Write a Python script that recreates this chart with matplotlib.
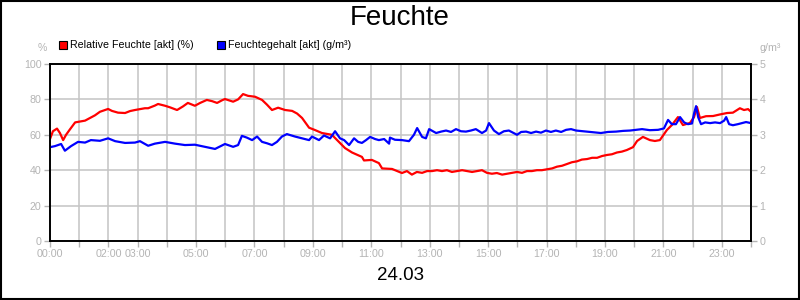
import matplotlib
matplotlib.use("Agg")
import matplotlib.pyplot as plt
from matplotlib.patches import Rectangle

plt.rcParams['font.family'] = ['Liberation Sans', 'DejaVu Sans']

# Relative Feuchte (%) - Stunden / Werte
rf_std = [0.00, 0.10, 0.24, 0.34, 0.45, 0.55, 0.68, 0.86, 1.03, 1.20, 1.37, 1.54, 1.71, 1.88, 1.99,
          2.12, 2.33, 2.57, 2.74, 2.91, 3.08, 3.25, 3.36, 3.59, 3.70, 3.94, 4.11, 4.35, 4.55, 4.72,
          4.96, 5.14, 5.37, 5.55, 5.72, 5.89, 5.99, 6.27, 6.44, 6.61, 6.78, 7.02, 7.26, 7.43, 7.60,
          7.81, 8.05, 8.29, 8.46, 8.63, 8.87, 9.07, 9.31, 9.65, 9.89, 10.10, 10.34, 10.68, 10.75,
          11.02, 11.26, 11.37, 11.71, 12.05, 12.22, 12.39, 12.56, 12.74, 12.91, 13.08, 13.25, 13.42,
          13.59, 13.76, 13.93, 14.11, 14.28, 14.45, 14.62, 14.79, 14.96, 15.13, 15.30, 15.48, 15.65,
          15.82, 15.99, 16.16, 16.33, 16.50, 16.67, 16.84, 17.02, 17.19, 17.36, 17.53, 17.70, 17.87,
          18.04, 18.21, 18.39, 18.56, 18.73, 18.90, 19.07, 19.24, 19.41, 19.58, 19.75, 19.96, 20.10,
          20.30, 20.54, 20.71, 20.88, 21.12, 21.29, 21.50, 21.67, 21.91, 22.05, 22.15, 22.25, 22.46,
          22.70, 22.94, 23.18, 23.38, 23.62, 23.76, 23.90, 24.00]
rf_wert = [57.6, 62, 63.5, 61, 57, 60, 63, 67, 67.5, 68, 69.5, 71, 73, 74, 74.6,
           73.5, 72.5, 72.3, 73.4, 74, 74.5, 75, 75, 76.5, 77.4, 76.4, 75.5, 74, 76, 78,
           76.4, 78, 79.7, 79, 78, 79.5, 80.2, 78.7, 80, 83, 82, 81.5, 79.7, 77, 74,
           75.3, 74, 73.5, 72, 69.5, 64, 62.7, 61, 60, 56, 52.5, 50, 47.5, 45.5,
           45.8, 44, 41, 40.7, 38.4, 39.5, 37.5, 39, 38.5, 39.5, 39.5, 40, 39.5,
           40, 39, 39.5, 40, 39.5, 39, 39.5, 40, 38.5, 38, 38.4, 37.5, 38,
           38.5, 39, 38.5, 39.5, 39.5, 40, 40, 40.5, 41, 42, 42.5, 43.5, 44.5,
           45, 46, 46.3, 47, 47, 48, 48.6, 49, 50, 50.5, 51.4, 53, 56.5,
           58.8, 57, 56.5, 57, 62.7, 65.5, 70, 65.5, 66.7, 70, 75.7, 69.5, 70.5,
           70.6, 71.5, 72.3, 72.5, 75, 74, 74.5, 73]

# Feuchtegehalt (g/m³) - Stunden / Werte
fg_std = [0.00, 0.17, 0.38, 0.51, 0.72, 0.96, 1.20, 1.40, 1.71, 1.99, 2.23, 2.57, 2.91, 3.08, 3.36,
          3.59, 3.94, 4.28, 4.62, 4.96, 5.31, 5.65, 5.99, 6.27, 6.44, 6.57, 6.74, 6.92, 7.09, 7.26,
          7.43, 7.60, 7.77, 7.94, 8.11, 8.39, 8.63, 8.87, 8.97, 9.21, 9.38, 9.59, 9.76, 9.93, 10.07,
          10.24, 10.41, 10.55, 10.68, 10.82, 10.96, 11.13, 11.26, 11.44, 11.61, 11.64, 11.81, 12.05,
          12.29, 12.46, 12.57, 12.74, 12.87, 12.98, 13.22, 13.39, 13.56, 13.73, 13.90, 14.07, 14.24,
          14.41, 14.58, 14.79, 14.93, 15.03, 15.20, 15.37, 15.54, 15.71, 15.85, 15.99, 16.13, 16.30,
          16.47, 16.64, 16.81, 16.98, 17.15, 17.32, 17.50, 17.67, 17.84, 18.01, 18.25, 18.49, 18.73,
          18.86, 19.10, 19.38, 19.62, 19.86, 20.06, 20.27, 20.54, 20.82, 21.02, 21.16, 21.29, 21.43,
          21.57, 21.71, 21.84, 21.98, 22.05, 22.12, 22.19, 22.29, 22.43, 22.60, 22.77, 22.94, 23.08,
          23.15, 23.25, 23.38, 23.55, 23.69, 23.83, 24.00]
fg_wert = [2.65, 2.68, 2.74, 2.55, 2.68, 2.8, 2.78, 2.85, 2.83, 2.9, 2.82, 2.77, 2.78, 2.82, 2.69,
           2.75, 2.8, 2.75, 2.71, 2.72, 2.66, 2.6, 2.74, 2.66, 2.71, 2.97, 2.92, 2.85, 2.95, 2.8,
           2.76, 2.71, 2.8, 2.95, 3.02, 2.95, 2.9, 2.85, 2.95, 2.85, 2.98, 2.9, 3.1, 2.9, 2.85,
           2.71, 2.9, 2.8, 2.77, 2.85, 2.94, 2.88, 2.85, 2.88, 2.75, 2.92, 2.86, 2.85,
           2.82, 3.0, 3.19, 2.94, 2.9, 3.16, 3.05, 3.09, 3.12, 3.08, 3.16, 3.1, 3.09,
           3.12, 3.16, 3.05, 3.12, 3.33, 3.12, 3.02, 3.1, 3.12, 3.06, 3.0, 3.08, 3.09,
           3.05, 3.09, 3.06, 3.12, 3.08, 3.12, 3.08, 3.14, 3.16, 3.12, 3.1, 3.08, 3.06,
           3.05, 3.08, 3.09, 3.11, 3.12, 3.14, 3.16, 3.13, 3.14, 3.18, 3.42, 3.3, 3.3,
           3.5, 3.35, 3.3, 3.32, 3.6, 3.81, 3.5, 3.3, 3.35, 3.33, 3.35, 3.33, 3.4,
           3.5, 3.3, 3.27, 3.3, 3.33, 3.36, 3.33]

stunden_labels = [0, 2, 3, 5, 7, 9, 11, 13, 15, 17, 19, 21, 23]
y_links = [0, 20, 40, 60, 80, 100]
y_rechts = [0, 1, 2, 3, 4, 5]

grau = '#b4b4b4'

fig = plt.figure(figsize=(8, 3), dpi=100)
ax = fig.add_axes([0.0625, 0.1967, 0.87625, 0.59])
ax2 = ax.twinx()

ax.plot(rf_std, rf_wert, color='#ff0000', lw=1.6)
ax2.plot(fg_std, fg_wert, color='#0000ff', lw=1.6)

ax.set_xlim(0, 24)
ax.set_ylim(0, 100)
ax2.set_ylim(0, 5)

ax.set_xticks(range(25))
ax.set_xticklabels([f"{h:02d}:00" if h in stunden_labels else "" for h in range(25)])
ax.set_yticks(y_links)
ax2.set_yticks(y_rechts)

ax.grid(True, color='#c4c4c4', lw=1.1)
ax.set_axisbelow(True)

for a in (ax, ax2):
    a.tick_params(colors=grau, labelcolor=grau, labelsize=7.7, length=4, width=1, pad=2)
    for s in a.spines.values():
        s.set_color('black')
        s.set_linewidth(1.2)

fig.text(0.5, 0.94, "Feuchte", ha='center', va='center', fontsize=20)
fig.text(0.5, 0.08, "24.03", ha='center', va='center', fontsize=13.5)
fig.text(0.0525, 0.84, "%", ha='center', va='center', fontsize=7.7, color=grau)
fig.text(0.9625, 0.84, "g/m³", ha='center', va='center', fontsize=7.7, color=grau)

# Legende
for x0, farbe, text in [(59, '#ff0000', "Relative Feuchte [akt] (%)"),
                        (217, '#0000ff', "Feuchtegehalt [akt] (g/m³)")]:
    fig.patches.append(Rectangle((x0 / 800, (300 - 49) / 300), 8 / 800, 8 / 300,
                                 transform=fig.transFigure, facecolor=farbe,
                                 edgecolor='black', lw=0.8))
    fig.text((x0 + 11) / 800, (300 - 45) / 300, text, ha='left', va='center', fontsize=7.7)

fig.patches.append(Rectangle((0.001, 0.002), 0.998, 0.996, transform=fig.transFigure,
                             fill=False, edgecolor='black', lw=1.5))

fig.savefig("out.png", dpi=100)
